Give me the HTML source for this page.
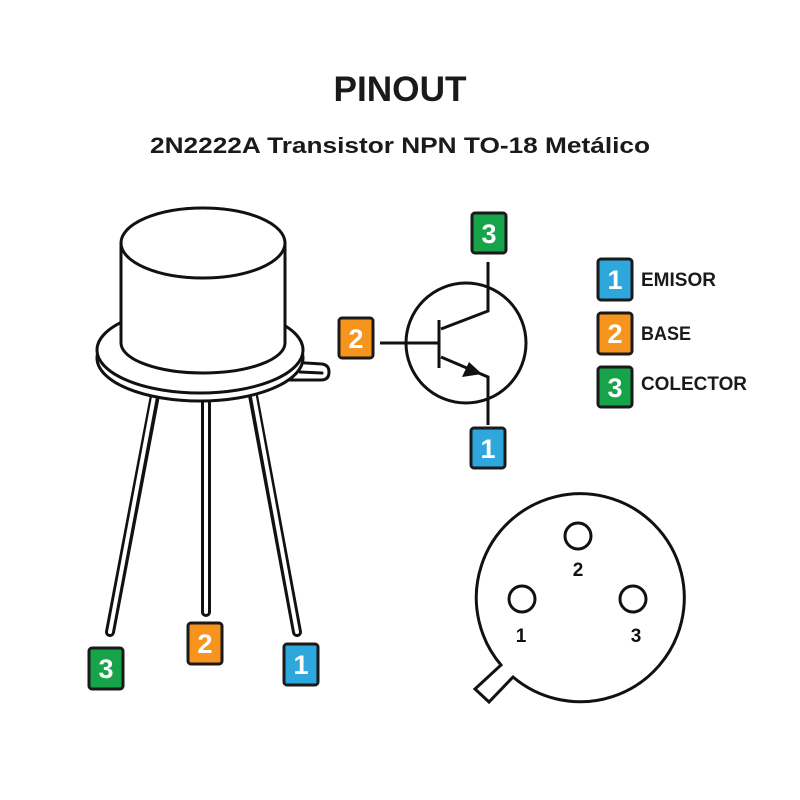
<!DOCTYPE html>
<html><head><meta charset="utf-8"><style>
html,body{margin:0;padding:0;background:#fff;}
svg{display:block;}
text{font-family:"Liberation Sans",Arial,sans-serif;font-weight:bold;}
</style></head><body>
<svg width="800" height="800" viewBox="0 0 800 800" xmlns="http://www.w3.org/2000/svg">
<rect width="800" height="800" fill="#fff"/>
<text x="400" y="101" font-size="35" text-anchor="middle" fill="#1a1a1a" textLength="133" lengthAdjust="spacingAndGlyphs">PINOUT</text>
<text x="400" y="153" font-size="22" text-anchor="middle" fill="#1a1a1a" textLength="500" lengthAdjust="spacingAndGlyphs">2N2222A Transistor NPN TO-18 Metálico</text>

<g fill="none" stroke="#111" stroke-width="3" stroke-linecap="round" stroke-linejoin="round">
<g stroke-width="10"><line x1="156" y1="390" x2="110" y2="632"/><line x1="206" y1="390" x2="206" y2="612"/><line x1="252" y1="390" x2="297" y2="632"/></g>
<g stroke="#fff" stroke-width="4"><line x1="156" y1="386" x2="110" y2="632"/><line x1="206" y1="386" x2="206" y2="612"/><line x1="252" y1="386" x2="297" y2="632"/></g>
<!-- tab -->
<path d="M290,362 L322,364 Q329,365 329,372 Q329,380 321,380 L290,380 Z" fill="#fff"/>
<line x1="300" y1="372" x2="322" y2="373"/>
<!-- flange -->
<ellipse cx="200" cy="358" rx="103" ry="43" fill="#fff"/>
<ellipse cx="200" cy="350" rx="103" ry="43" fill="#fff"/>
<!-- can -->
<path d="M121,243 L121,343 A82,30 0 0 0 285,343 L285,243" fill="#fff"/>
<ellipse cx="203" cy="243" rx="82" ry="35" fill="#fff"/>
</g>

<g fill="none" stroke="#111" stroke-width="3">
<circle cx="466" cy="343" r="60"/>
<line x1="380" y1="343" x2="439" y2="343"/>
<line x1="439" y1="320" x2="439" y2="368"/>
<polyline points="441,329 488,311 488,262"/>
<polyline points="441,357 488,377 488,425"/>
</g>
<polygon points="482,374 462,377 469,362" fill="#111"/>

<g fill="none" stroke="#111" stroke-width="3">
<path d="M501,665 A104,104 0 1 1 513,677 L489,702 L475,689 Z" fill="#fff"/>
<circle cx="578" cy="536" r="13"/>
<circle cx="522" cy="599" r="13"/>
<circle cx="633" cy="599" r="13"/>
</g>
<g font-size="19" fill="#111" text-anchor="middle">
<text x="578" y="576">2</text><text x="521" y="642">1</text><text x="636" y="642">3</text>
</g>

<g stroke="#1a1a1a" stroke-width="3">
<rect x="472" y="213" width="34" height="40" rx="3" fill="#17a34a"/>
<rect x="339" y="318" width="34" height="40" rx="3" fill="#f7941d"/>
<rect x="471" y="428" width="34" height="40" rx="3" fill="#2ea7dd"/>
<rect x="598" y="259" width="34" height="41" rx="3" fill="#2ea7dd"/>
<rect x="598" y="313" width="34" height="41" rx="3" fill="#f7941d"/>
<rect x="598" y="367" width="34" height="40" rx="3" fill="#17a34a"/>
<rect x="89" y="648" width="34" height="41" rx="3" fill="#17a34a"/>
<rect x="188" y="623" width="34" height="41" rx="3" fill="#f7941d"/>
<rect x="284" y="644" width="34" height="41" rx="3" fill="#2ea7dd"/>
</g>
<g font-size="27" fill="#fff" text-anchor="middle">
<text x="489" y="243">3</text><text x="356" y="348">2</text><text x="488" y="458">1</text>
<text x="615" y="289">1</text><text x="615" y="343">2</text><text x="615" y="397">3</text>
<text x="106" y="678">3</text><text x="205" y="653">2</text><text x="301" y="674">1</text>
</g>
<g font-size="19" fill="#1a1a1a">
<text x="641" y="286" textLength="75" lengthAdjust="spacingAndGlyphs">EMISOR</text>
<text x="641" y="340" textLength="50" lengthAdjust="spacingAndGlyphs">BASE</text>
<text x="641" y="390" textLength="106" lengthAdjust="spacingAndGlyphs">COLECTOR</text>
</g>
</svg>
</body></html>
